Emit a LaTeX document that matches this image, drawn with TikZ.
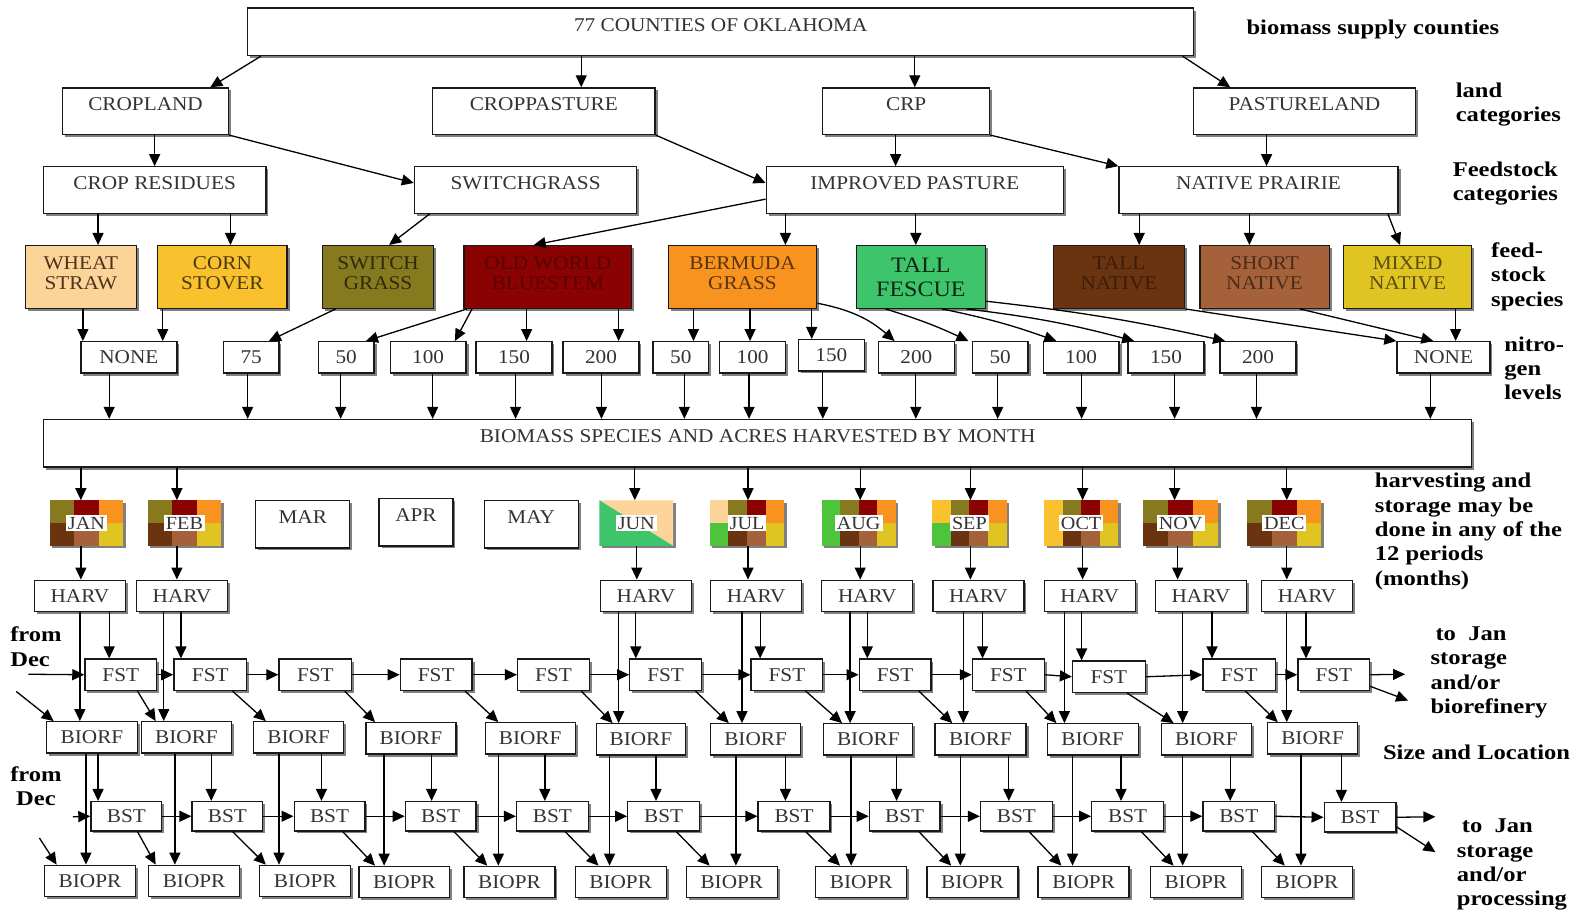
\documentclass[tikz,border=0pt]{standalone}
\usepackage{fontspec}
\setmainfont{Liberation Serif}[FakeStretch=1.09]
\newfontfamily\lblfont{Liberation Serif}[FakeStretch=1.17]
\usetikzlibrary{shadows,arrows.meta,calc}
\definecolor{cwheat}{HTML}{FCD49A}
\definecolor{ccorn}{HTML}{F9C12E}
\definecolor{cswg}{HTML}{877A1E}
\definecolor{cowb}{HTML}{8A0202}
\definecolor{cberm}{HTML}{F8931F}
\definecolor{cfesc}{HTML}{3EC46A}
\definecolor{ctn}{HTML}{6B3411}
\definecolor{csn}{HTML}{A4613A}
\definecolor{cmn}{HTML}{E0C422}
\definecolor{clime}{HTML}{4EC43C}
\tikzset{
 shd/.style={drop shadow={shadow xshift=2.5pt,shadow yshift=-2.5pt,fill=black!50,opacity=1}},
 bx/.style={draw=black!90,line width=1.3pt,fill=white,inner sep=0pt,shd,font=\fontsize{19.5}{21}\selectfont,text=black!80},
 up/.style={text height=12.7pt,text depth=14pt},
 sp/.style={align=center,font=\fontsize{19.5}{20}\selectfont},
 mbox/.style={fill=white,inner sep=0pt,shd},
 mlab/.style={fill=white,inner sep=2pt,font=\fontsize{18.5}{19}\selectfont,text=black!80},
 arr/.style={line width=1.3pt,-{Triangle[length=12pt,width=11pt]}},
 lbl/.style={font=\lblfont\bfseries\fontsize{21}{24.3}\selectfont,align=left,anchor=north west,inner sep=0pt},
}
\newcommand\lo{\rule[-8pt]{0pt}{8pt}}
\newcommand\mybox[7][]{\node[bx,minimum width={(#5-#3)*1.0108pt},minimum height={(#6-#4)*1.0108pt},#1] (#2) at ({(#3+#5)/2},{(#4+#6)/2}) {#7};}
\newcommand\mnode[5]{\node[mbox,minimum width={(#4-#2)*1.0108pt},minimum height={(#5-#3)*1.0108pt}] (#1) at ({(#2+#4)/2},{(#3+#5)/2}) {};}
\newcommand\vdn[3]{\draw[arr] (#1.south -| #3,0) -- (#2.north -| #3,0);}
\newcommand\dgn[5][]{\draw[arr,#1] (#2.south -| #3,0) -- (#4.north -| #5,0);}
\newcommand\mthree[4]{%
 \pgfmathsetmacro\ga{#1+(#3-#1)/3}\pgfmathsetmacro\gb{#1+2*(#3-#1)/3}\pgfmathsetmacro\gm{(#2+#4)/2}%
 \fill[cswg] (#1,#2) rectangle (\ga,\gm);
 \fill[cowb] (\ga,#2) rectangle (\gb,\gm);
 \fill[cberm] (\gb,#2) rectangle (#3,\gm);
 \fill[ctn] (#1,\gm) rectangle (\ga,#4);
 \fill[csn] (\ga,\gm) rectangle (\gb,#4);
 \fill[cmn] (\gb,\gm) rectangle (#3,#4);}
\newcommand\mfour[6]{%
 \pgfmathsetmacro\gq{#1+(#3-#1)/4}\pgfmathsetmacro\gh{(#2+#4)/2}%
 \fill[#5] (#1,#2) rectangle (\gq,\gh);
 \fill[#6] (#1,\gh) rectangle (\gq,#4);
 \mthree{\gq}{#2}{#3}{#4}}
\begin{document}
\begin{tikzpicture}[x=1.0108pt,y=-1.0108pt]
\fill[white] (0,0) rectangle (1568,905);
\useasboundingbox (0,0) rectangle (1568,905);
% ---------- top levels
\mybox[up]{cty}{245}{8}{1181}{55}{77 COUNTIES OF OKLAHOMA}
\mybox[up]{crop}{62}{87}{226}{133}{CROPLAND}
\mybox[up]{cpast}{428}{87}{648}{133}{CROPPASTURE}
\mybox[up]{crp}{814}{87}{979}{133}{CRP}
\mybox[up]{pland}{1181}{87}{1400}{133}{PASTURELAND}
\mybox[up]{cres}{43}{165}{263}{211}{CROP RESIDUES}
\mybox[up]{swg}{410}{165}{630}{211}{SWITCHGRASS}
\mybox[up]{imp}{758}{165}{1052}{211}{IMPROVED PASTURE}
\mybox[up]{nat}{1107}{165}{1383}{211}{NATIVE PRAIRIE}
% ---------- species
\mybox[sp,fill=cwheat,text=black!60!brown]{sWS}{25}{243}{135}{305}{WHEAT\\STRAW\lo}
\mybox[sp,fill=ccorn,text=black!70!ccorn]{sCS}{156}{243}{284}{305}{CORN\\STOVER\lo}
\mybox[sp,fill=cswg,text=black!65!cswg]{sSG}{319}{243}{429}{305}{SWITCH\\GRASS\lo}
\mybox[sp,fill=cowb,text=black!35!cowb]{sOWB}{459}{243}{625}{305}{OLD WORLD\\BLUESTEM\lo}
\mybox[sp,fill=cberm,text=black!65!cberm]{sBG}{661}{243}{808}{305}{BERMUDA\\GRASS\lo}
\mybox[sp,fill=cfesc,text=black!80!cfesc,font=\fontsize{22}{24}\selectfont]{sTF}{847}{243}{975}{305}{TALL\\FESCUE}
\mybox[sp,fill=ctn,text=black!45!ctn]{sTN}{1042}{243}{1172}{305}{TALL\\NATIVE\lo}
\mybox[sp,fill=csn,text=black!55!csn]{sSN}{1187}{243}{1315}{305}{SHORT\\NATIVE\lo}
\mybox[sp,fill=cmn,text=black!60!cmn]{sMN}{1329}{243}{1456}{305}{MIXED\\NATIVE\lo}
% ---------- nitrogen levels
\mybox{n1}{80}{338}{175}{369}{NONE}
\mybox{n2}{221}{338}{276}{369}{75}
\mybox{n3}{315}{338}{370}{369}{50}
\mybox{n4}{386}{338}{461}{369}{100}
\mybox{n5}{471}{338}{546}{369}{150}
\mybox{n6}{557}{338}{632}{369}{200}
\mybox{n7}{646}{338}{701}{369}{50}
\mybox{n8}{712}{338}{777}{369}{100}
\mybox{n9}{790}{336}{855}{367}{150}
\mybox{n10}{869}{338}{944}{369}{200}
\mybox{n11}{962}{338}{1017}{369}{50}
\mybox{n12}{1032}{338}{1107}{369}{100}
\mybox{n13}{1116}{338}{1191}{369}{150}
\mybox{n14}{1207}{338}{1282}{369}{200}
\mybox{n15}{1382}{338}{1474}{369}{NONE}
\mybox[up]{bio}{43}{415}{1456}{462}{BIOMASS SPECIES AND ACRES HARVESTED BY MONTH}
% ---------- months
\mnode{m1}{49}{495}{122}{540}
\mthree{49}{495}{122}{540}
\node[mlab] at (m1) {JAN};
\mnode{m2}{146}{495}{219}{540}
\mthree{146}{495}{219}{540}
\node[mlab] at (m2) {FEB};
\mybox[up]{m3}{253}{495}{346}{542}{MAR}
\mybox[up]{m4}{375}{493}{448}{540}{APR}
\mybox[up]{m5}{479}{495}{572}{542}{MAY}
\mnode{m6}{593}{495}{666}{540}
\fill[cwheat] (593,495) -- (666,495) -- (666,540) -- cycle;
\fill[cfesc] (593,495) -- (666,540) -- (593,540) -- cycle;
\node[mlab] at (m6) {JUN};
\mnode{m7}{702}{495}{776}{540}
\mfour{702}{495}{776}{540}{cwheat}{clime}
\node[mlab] at (m7) {JUL};
\mnode{m8}{813}{495}{886}{540}
\mfour{813}{495}{886}{540}{clime}{clime}
\node[mlab] at (m8) {AUG};
\mnode{m9}{922}{495}{996}{540}
\mfour{922}{495}{996}{540}{ccorn}{clime}
\node[mlab] at (m9) {SEP};
\mnode{m10}{1033}{495}{1106}{540}
\mfour{1033}{495}{1106}{540}{ccorn}{ccorn}
\node[mlab] at (m10) {OCT};
\mnode{m11}{1131}{495}{1205}{540}
\mthree{1131}{495}{1205}{540}
\node[mlab] at (m11) {NOV};
\mnode{m12}{1234}{495}{1307}{540}
\mthree{1234}{495}{1307}{540}
\node[mlab] at (m12) {DEC};
% ---------- HARV
\mybox{h1}{34}{574}{124}{605}{HARV}
\mybox{h2}{135}{574}{225}{605}{HARV}
\mybox{h6}{594}{574}{684}{605}{HARV}
\mybox{h7}{703}{574}{793}{605}{HARV}
\mybox{h8}{813}{574}{903}{605}{HARV}
\mybox{h9}{923}{574}{1013}{605}{HARV}
\mybox{h10}{1033}{574}{1123}{605}{HARV}
\mybox{h11}{1143}{574}{1233}{605}{HARV}
\mybox{h12}{1248}{574}{1338}{605}{HARV}
% ---------- FST
\mybox{f1}{84}{652}{155}{683}{FST}
\mybox{f2}{172}{652}{244}{683}{FST}
\mybox{f3}{276}{652}{348}{683}{FST}
\mybox{f4}{396}{652}{467}{683}{FST}
\mybox{f5}{512}{652}{583}{683}{FST}
\mybox{f6}{623}{652}{694}{683}{FST}
\mybox{f7}{743}{652}{814}{683}{FST}
\mybox{f8}{850}{652}{921}{683}{FST}
\mybox{f9}{962}{652}{1033}{683}{FST}
\mybox{f10}{1061}{654}{1133}{685}{FST}
\mybox{f11}{1190}{652}{1262}{683}{FST}
\mybox{f12}{1284}{652}{1355}{683}{FST}
% ---------- BIORF
\mybox{r1}{46}{714}{136}{745}{BIORF}
\mybox{r2}{140}{714}{229}{745}{BIORF}
\mybox{r3}{251}{714}{340}{745}{BIORF}
\mybox{r4}{362}{715}{451}{746}{BIORF}
\mybox{r5}{480}{715}{569}{746}{BIORF}
\mybox{r6}{590}{716}{678}{747}{BIORF}
\mybox{r7}{703}{716}{792}{747}{BIORF}
\mybox{r8}{815}{716}{903}{747}{BIORF}
\mybox{r9}{925}{716}{1015}{747}{BIORF}
\mybox{r10}{1036}{716}{1126}{747}{BIORF}
\mybox{r11}{1149}{716}{1238}{747}{BIORF}
\mybox{r12}{1254}{715}{1343}{746}{BIORF}
% ---------- BST
\mybox{b1}{90}{793}{160}{822}{BST}
\mybox{b2}{190}{793}{260}{822}{BST}
\mybox{b3}{291}{793}{361}{822}{BST}
\mybox{b4}{401}{793}{471}{822}{BST}
\mybox{b5}{511}{793}{582}{822}{BST}
\mybox{b6}{621}{793}{692}{822}{BST}
\mybox{b7}{750}{793}{821}{822}{BST}
\mybox{b8}{860}{793}{930}{822}{BST}
\mybox{b9}{970}{793}{1041}{822}{BST}
\mybox{b10}{1080}{793}{1151}{822}{BST}
\mybox{b11}{1190}{793}{1261}{822}{BST}
\mybox{b12}{1310}{794}{1381}{823}{BST}
% ---------- BIOPR
\mybox{p1}{44}{856}{134}{887}{BIOPR}
\mybox{p2}{147}{856}{237}{887}{BIOPR}
\mybox{p3}{257}{856}{347}{887}{BIOPR}
\mybox{p4}{355}{857}{445}{888}{BIOPR}
\mybox{p5}{459}{857}{549}{888}{BIOPR}
\mybox{p6}{569}{857}{659}{888}{BIOPR}
\mybox{p7}{679}{857}{769}{888}{BIOPR}
\mybox{p8}{807}{857}{897}{888}{BIOPR}
\mybox{p9}{917}{857}{1007}{888}{BIOPR}
\mybox{p10}{1027}{857}{1117}{888}{BIOPR}
\mybox{p11}{1138}{857}{1228}{888}{BIOPR}
\mybox{p12}{1248}{857}{1338}{888}{BIOPR}
% ---------- labels
\node[lbl] (L1) at (1233,20) {biomass supply counties};
\node[lbl] (L2) at (1440,82) {land\\categories};
\node[lbl] (L3) at (1437,160) {Feedstock\\categories};
\node[lbl] (L4) at (1475,240) {feed-\\stock\\species};
\node[lbl] (L5) at (1488,333) {nitro-\\gen\\levels};
\node[lbl] (L6) at (1360,468) {harvesting and\\storage may be\\done in any of the\\12 periods\\(months)};
\node[lbl] (L7) at (10,620) {from\\Dec};
\node[lbl] (L8) at (1415,620) {\hspace*{5pt}to\ \ Jan\\storage\\and/or\\biorefinery};
\node[lbl] (L9) at (1368,737) {Size and Location};
\node[lbl,align=center] (L10) at (10,758) {from\\Dec};
\node[lbl] (L11) at (1441,810) {\hspace*{5pt}to\ \ Jan\\storage\\and/or\\processing};
% ---------- connectors: top
\dgn{cty}{258}{crop}{208}
\vdn{cty}{cpast}{575}
\vdn{cty}{crp}{905}
\dgn{cty}{1170}{pland}{1217}
\vdn{crop}{cres}{153}
\draw[arr] (crop.south east) -- (swg.west |- 0,181);
\draw[arr] (cpast.south east) -- (imp.west |- 0,181);
\vdn{crp}{imp}{886}
\draw[arr] (crp.south east) -- (nat.north west);
\vdn{pland}{nat}{1253}
\vdn{cres}{sWS}{97}
\vdn{cres}{sCS}{228}
\dgn{swg}{425}{sSG}{385}
\draw[arr] (imp.west |- 0,197) -- (sOWB.north -| 528,0);
\vdn{imp}{sBG}{777}
\vdn{imp}{sTF}{906}
\vdn{nat}{sTN}{1127}
\vdn{nat}{sSN}{1236}
\dgn{nat}{1373}{sMN}{1385}
% species -> nitrogen
\vdn{sWS}{n1}{82}
\vdn{sCS}{n1}{161}
\dgn{sSG}{332}{n2}{266}
\dgn{sOWB}{462}{n3}{362}
\dgn{sOWB}{467}{n4}{450}
\vdn{sOWB}{n5}{521}
\vdn{sOWB}{n6}{612}
\vdn{sBG}{n7}{686}
\vdn{sBG}{n8}{742}
\vdn{sBG}{n9}{803}
\draw[arr] (sBG.east |- 0,300) to[bend left=15] (n10.north -| 885,0);
\draw[arr] (sTF.south -| 876,0) to[bend left=4] (n11.north -| 958,0);
\draw[arr] (sTF.south -| 932,0) to[bend left=4] (n12.north -| 1045,0);
\draw[arr] (sTF.south -| 956,0) to[bend left=4] (n13.north -| 1122,0);
\draw[arr] (sTF.east |- 0,298) to[bend left=3] (n14.north -| 1212,0);
\draw[arr] (sTN.south east) -- (n15.north west);
\dgn{sSN}{1286}{n15}{1418}
\vdn{sMN}{n15}{1440}
% nitrogen -> biomass
\vdn{n1}{bio}{108}
\vdn{n2}{bio}{245}
\vdn{n3}{bio}{337}
\vdn{n4}{bio}{428}
\vdn{n5}{bio}{510}
\vdn{n6}{bio}{595}
\vdn{n7}{bio}{677}
\vdn{n8}{bio}{741}
\vdn{n9}{bio}{814}
\vdn{n10}{bio}{906}
\vdn{n11}{bio}{987}
\vdn{n12}{bio}{1070}
\vdn{n13}{bio}{1162}
\vdn{n14}{bio}{1243}
\vdn{n15}{bio}{1415}
% biomass -> months
\vdn{bio}{m1}{80}
\vdn{bio}{m2}{175}
\vdn{bio}{m6}{628}
\vdn{bio}{m7}{740}
\vdn{bio}{m8}{851}
\vdn{bio}{m9}{960}
\vdn{bio}{m10}{1071}
\vdn{bio}{m11}{1162}
\vdn{bio}{m12}{1273}
% months -> HARV
\vdn{m1}{h1}{80}
\vdn{m2}{h2}{175}
\vdn{m6}{h6}{630}
\vdn{m7}{h7}{740}
\vdn{m8}{h8}{851}
\vdn{m9}{h9}{960}
\vdn{m10}{h10}{1071}
\vdn{m11}{h11}{1165}
\vdn{m12}{h12}{1273}
% HARV -> BIORF (long) and FST (short)
\vdn{h1}{r1}{79}   \vdn{h1}{f1}{108}
\vdn{h2}{r2}{162}  \vdn{h2}{f2}{179}
\vdn{h6}{r6}{612}  \vdn{h6}{f6}{629}
\vdn{h7}{r7}{734}  \vdn{h7}{f7}{752}
\vdn{h8}{r8}{841}  \vdn{h8}{f8}{858}
\vdn{h9}{r9}{953}  \vdn{h9}{f9}{972}
\vdn{h10}{r10}{1053} \vdn{h10}{f10}{1070}
\vdn{h11}{r11}{1170} \vdn{h11}{f11}{1199}
\vdn{h12}{r12}{1273} \vdn{h12}{f12}{1292}
% FST chain
\foreach \i [evaluate=\i as \j using int(\i+1)] in {1,...,11}{\draw[arr] (f\i.east) -- (f\j.west);}
\dgn{f1}{136}{r2}{154}
\dgn{f2}{230}{r3}{263}
\dgn{f3}{341}{r4}{371}
\dgn{f4}{460}{r5}{493}
\dgn{f5}{575}{r6}{606}
\dgn{f6}{688}{r7}{721}
\dgn{f7}{797}{r8}{833}
\dgn{f8}{909}{r9}{942}
\dgn{f9}{1015}{r10}{1045}
\dgn{f10}{1115}{r11}{1161}
\dgn{f11}{1232}{r12}{1264}
\coordinate (fo1) at (1390,667);
\coordinate (fo2) at (1393,693);
\draw[arr] (f12.east) -- (fo1);
\draw[arr] (f12.east |- 0,679) -- (fo2);
\coordinate (fd1) at (28,667);
\coordinate (fd2) at (16,684);
\draw[arr] (fd1) -- (f1.west);
\draw[arr] (fd2) -- (r1.north -| 53,0);
% BIORF -> BIOPR (long) and BST (short)
\vdn{r1}{p1}{85}    \vdn{r1}{b1}{97}
\vdn{r2}{p2}{173}   \vdn{r2}{b2}{209}
\vdn{r3}{p3}{276}   \vdn{r3}{b3}{318}
\vdn{r4}{p4}{380}   \vdn{r4}{b4}{427}
\vdn{r5}{p5}{493}   \vdn{r5}{b5}{539}
\vdn{r6}{p6}{603}   \vdn{r6}{b6}{649}
\vdn{r7}{p7}{728}   \vdn{r7}{b7}{777}
\vdn{r8}{p8}{842}   \vdn{r8}{b8}{887}
\vdn{r9}{p9}{950}   \vdn{r9}{b9}{998}
\vdn{r10}{p10}{1061} \vdn{r10}{b10}{1109}
\vdn{r11}{p11}{1170} \vdn{r11}{b11}{1217}
\vdn{r12}{p12}{1287} \vdn{r12}{b12}{1327}
% BST chain
\foreach \i [evaluate=\i as \j using int(\i+1)] in {1,...,11}{\draw[arr] (b\i.east) -- (b\j.west);}
\dgn{b1}{136}{p2}{154}
\dgn{b2}{230}{p3}{263}
\dgn{b3}{339}{p4}{371}
\dgn{b4}{449}{p5}{482}
\dgn{b5}{559}{p6}{592}
\dgn{b6}{669}{p7}{702}
\dgn{b7}{797}{p8}{831}
\dgn{b8}{909}{p9}{941}
\dgn{b9}{1018}{p10}{1050}
\dgn{b10}{1129}{p11}{1161}
\dgn{b11}{1239}{p12}{1271}
\coordinate (bo1) at (1420,808);
\coordinate (bo2) at (1420,843);
\draw[arr] (b12.east) -- (bo1);
\draw[arr] (b12.east |- 0,818) -- (bo2);
\coordinate (bd1) at (72,808);
\coordinate (bd2) at (39,829);
\draw[arr] (bd1) -- (b1.west);
\draw[arr] (bd2) -- (p1.north -| 56,0);
\end{tikzpicture}
\end{document}
